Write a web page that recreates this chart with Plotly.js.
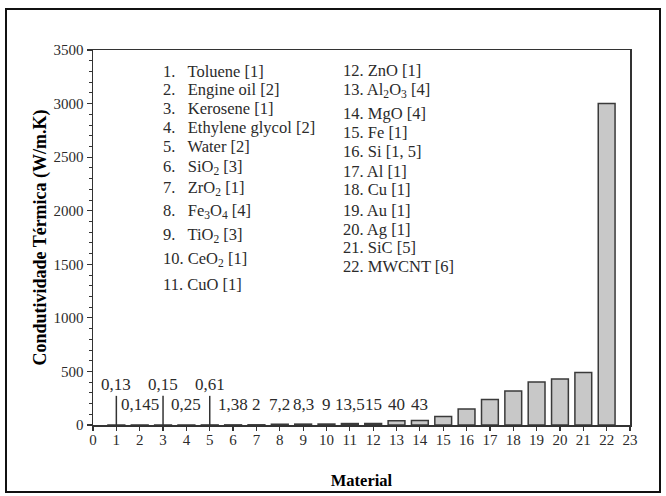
<!DOCTYPE html>
<html>
<head>
<meta charset="utf-8">
<script src="https://cdn.plot.ly/plotly-3.0.1.min.js"></script>
<style>
html,body{margin:0;padding:0;background:#fff;}
#wrap{position:relative;width:666px;height:496px;}
#chart{width:666px;height:496px;}
#frame{position:absolute;left:5px;top:8px;width:656px;height:485px;border:2px solid #111;box-sizing:border-box;pointer-events:none;}
</style>
</head>
<body>
<div id="wrap"><div id="chart"></div><div id="frame"></div></div>
<script>
// ---- data ----
const materialIdx = [1,2,3,4,5,6,7,8,9,10,11,12,13,14,15,16,17,18,19,20,21,22];
const conductivity = [0.13,0.145,0.15,0.25,0.61,1.38,2,7.2,8.3,9,13.5,15,40,43,80,150,237,318,401,429,490,3000];
const valueLabels = ['0,13','0,145','0,15','0,25','0,61','1,38','2','7,2','8,3','9','13,5','15','40','43'];
const upperLabelIdx = [1,3,5];
const xTicks = [0,1,2,3,4,5,6,7,8,9,10,11,12,13,14,15,16,17,18,19,20,21,22,23];
const legendCol1 = ['1.&nbsp;&nbsp; Toluene [1]','2.&nbsp;&nbsp; Engine oil [2]','3.&nbsp;&nbsp; Kerosene [1]','4.&nbsp;&nbsp; Ethylene glycol [2]','5.&nbsp;&nbsp; Water [2]','6.&nbsp;&nbsp; SiO<sub>2</sub> [3]','7.&nbsp;&nbsp; ZrO<sub>2</sub> [1]','8.&nbsp;&nbsp; Fe<sub>3</sub>O<sub>4</sub> [4]','9.&nbsp;&nbsp; TiO<sub>2</sub> [3]','10. CeO<sub>2</sub> [1]','11. CuO [1]'];
const legendCol1Y = [71,89,108,127,147,167,188,211,235,259,284];
const legendCol2 = ['12. ZnO [1]','13. Al<sub>2</sub>O<sub>3</sub> [4]','14. MgO [4]','15. Fe [1]','16. Si [1, 5]','17. Al [1]','18. Cu [1]','19. Au [1]','20. Ag [1]','21. SiC [5]','22. MWCNT [6]'];
const legendCol2Y = [70,90,113,132,151,171,190,210,229,247,266];

// ---- layout constants ----
const W=666,H=496, M={l:93,r:36,t:50,b:71};
const plotH = H-M.t-M.b, plotW = W-M.l-M.r;
const font = 'Liberation Serif, Times New Roman, serif';
const txt = '#2b2b2b';
const upperY = 375, lowerY = 196, leaderTop = 272;

const ann = [];
valueLabels.forEach((t,i)=>{
  const idx = materialIdx[i];
  const up = upperLabelIdx.includes(idx);
  ann.push({x:idx, y: up?upperY:lowerY, xref:'x', yref:'y', text:t, showarrow:false,
    font:{family:font,size:17,color:txt}, xanchor:'center', yanchor:'middle'});
});
function addLegend(col, ys, xpx){
  col.forEach((t,i)=>{
    ann.push({x:(xpx-M.l)/plotW, y:1-(ys[i]-M.t)/plotH, xref:'paper', yref:'paper', text:t,
      showarrow:false, xanchor:'left', yanchor:'middle', align:'left',
      font:{family:font,size:16.5,color:txt}});
  });
}
addLegend(legendCol1, legendCol1Y, 161);
addLegend(legendCol2, legendCol2Y, 341);

const shapes = upperLabelIdx.map(idx=>({type:'line', xref:'x', yref:'y', x0:idx, x1:idx, y0:0, y1:leaderTop,
  line:{color:'#333',width:1.5}}));

const trace = {type:'bar', x:materialIdx, y:conductivity, width:0.72,
  marker:{color:'#c8c8c8', line:{color:'#3a3a3a', width:1.5}}, hoverinfo:'skip'};

const layout = {
  width:W, height:H, margin:M, paper_bgcolor:'#fff', plot_bgcolor:'#fff', showlegend:false,
  font:{family:font, color:txt},
  xaxis:{range:[0,23], tickvals:xTicks, ticktext:xTicks.map(String), showgrid:false, zeroline:false,
    showline:true, linecolor:'#333', linewidth:1.5, mirror:true, ticks:'outside', ticklen:4, tickwidth:1.2, tickcolor:'#333',
    ticklabelstandoff:-4,
    tickfont:{family:font,size:15,color:txt},
    title:{text:'<b>Material</b>', font:{family:font,size:16.5,color:'#000'}, standoff:28}},
  yaxis:{range:[0,3500], dtick:500, tick0:0, showgrid:false, zeroline:false,
    showline:true, linecolor:'#333', linewidth:1.5, mirror:true, ticks:'outside', ticklen:5, tickwidth:1.2, tickcolor:'#333',
    minor:{dtick:100, ticks:'outside', ticklen:3, tickwidth:1, tickcolor:'#333'},
    tickfont:{family:font,size:15,color:txt},
    title:{text:'<b>Condutividade Térmica (W/m.K)</b>', font:{family:font,size:18,color:'#000'}, standoff:2}},
  annotations:ann, shapes:shapes
};
Plotly.newPlot('chart',[trace],layout,{staticPlot:true});
</script>
</body>
</html>
